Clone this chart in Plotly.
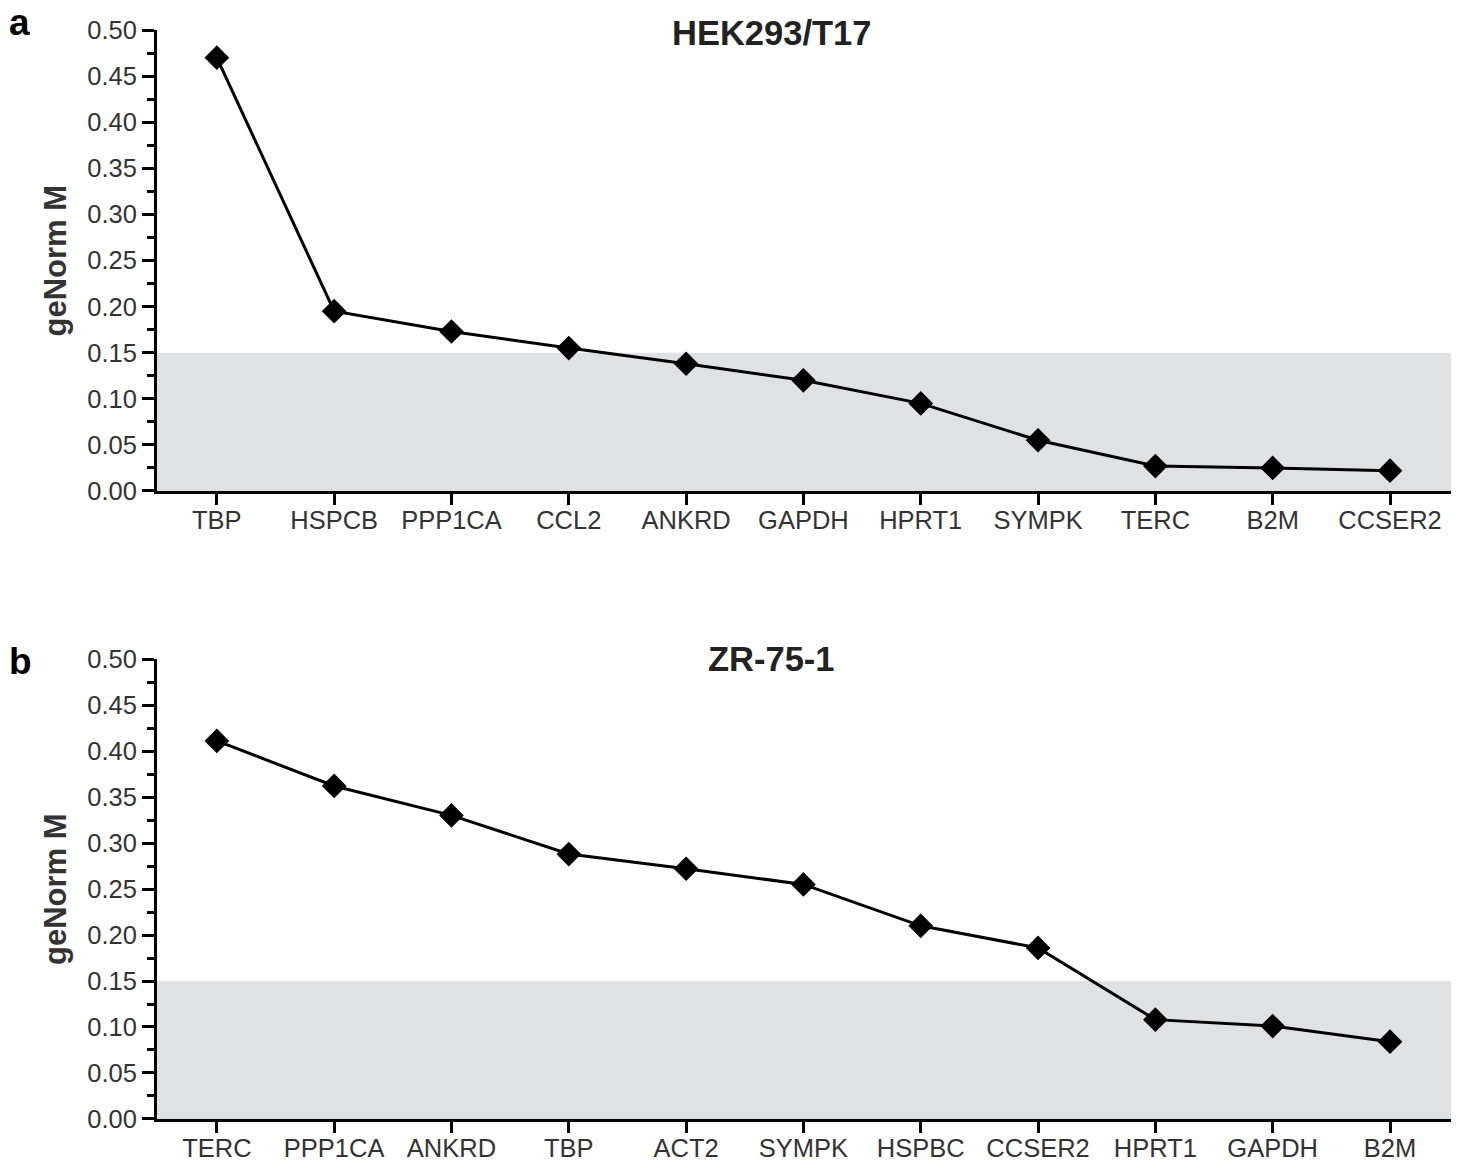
import plotly.graph_objects as go

# ---- data ----
genes_a = ["TBP", "HSPCB", "PPP1CA", "CCL2", "ANKRD", "GAPDH", "HPRT1", "SYMPK", "TERC", "B2M", "CCSER2"]
m_a = [0.470, 0.195, 0.173, 0.155, 0.138, 0.120, 0.095, 0.055, 0.027, 0.025, 0.022]
genes_b = ["TERC", "PPP1CA", "ANKRD", "TBP", "ACT2", "SYMPK", "HSPBC", "CCSER2", "HPRT1", "GAPDH", "B2M"]
m_b = [0.411, 0.362, 0.330, 0.288, 0.272, 0.255, 0.210, 0.186, 0.108, 0.101, 0.084]
titles = ["HEK293/T17", "ZR-75-1"]
panel_letters = ["a", "b"]
y_ticks = [0.00, 0.05, 0.10, 0.15, 0.20, 0.25, 0.30, 0.35, 0.40, 0.45, 0.50]
threshold = 0.15

FONT = "Liberation Sans, Arial, sans-serif"
W, H = 1460, 1161
ML, MR, MT, MB = 157, 9, 30, 42
PW = W - ML - MR
PH = H - MT - MB

fig = go.Figure()

panels = [(genes_a, m_a), (genes_b, m_b)]
domains = [[0.5767, 1.0], [0.0, 0.4224]]
title_off = [-3, 0]
letter_off = [7, -2]

for i, (genes, vals) in enumerate(panels):
    xa = "x" if i == 0 else "x2"
    ya = "y" if i == 0 else "y2"
    fig.add_trace(go.Scatter(
        x=list(range(len(genes))), y=vals, mode="lines+markers",
        line=dict(color="black", width=3),
        marker=dict(symbol="diamond", size=19, color="black"),
        xaxis=xa, yaxis=ya, showlegend=False, cliponaxis=False))
    axis_x = dict(
        domain=[0, 1], range=[-0.51, 10.52],
        tickmode="array", tickvals=list(range(len(genes))), ticktext=genes,
        showline=True, linecolor="black", linewidth=3,
        ticks="outside", ticklen=11, tickwidth=3, tickcolor="black",
        ticklabelstandoff=-7,
        showgrid=False, zeroline=False, automargin=False,
        tickfont=dict(family=FONT, size=25.5, color="#333333"),
        anchor=ya, fixedrange=True)
    axis_y = dict(
        domain=domains[i], range=[0, 0.5],
        tickmode="array", tickvals=y_ticks, ticktext=[f"{v:.2f}" for v in y_ticks],
        showline=True, linecolor="black", linewidth=3,
        ticks="outside", ticklen=12, tickwidth=3, tickcolor="black",
        minor=dict(dtick=0.025, tick0=0, ticks="outside", ticklen=7, tickwidth=3, tickcolor="black", showgrid=False),
        showgrid=False, zeroline=False, automargin=False,
        tickfont=dict(family=FONT, size=25.5, color="#333333"),
        anchor=xa, fixedrange=True)
    if i == 0:
        fig.update_layout(xaxis=axis_x, yaxis=axis_y)
    else:
        fig.update_layout(xaxis2=axis_x, yaxis2=axis_y)

    # grey acceptance band
    fig.add_shape(type="rect", xref=f"{xa} domain", yref=ya,
                  x0=0, x1=1, y0=0, y1=threshold,
                  fillcolor="#e0e1e3", line=dict(width=0), layer="below")

    top = domains[i][1]
    bot = domains[i][0]
    # panel title
    fig.add_annotation(text=f"<b>{titles[i]}</b>", xref="paper", yref="paper",
                       x=(771 - ML) / PW, y=top + title_off[i] / PH,
                       xanchor="center", yanchor="middle", showarrow=False,
                       font=dict(family=FONT, size=34.5, color="#222222"))
    # panel letter
    fig.add_annotation(text=f"<b>{panel_letters[i]}</b>", xref="paper", yref="paper",
                       x=(7 - ML) / PW, y=top + letter_off[i] / PH,
                       xanchor="left", yanchor="middle", showarrow=False,
                       font=dict(family=FONT, size=37, color="black"))
    # y-axis title
    fig.add_annotation(text="<b>geNorm M</b>", xref="paper", yref="paper",
                       x=(55 - ML) / PW, y=(bot + top) / 2,
                       xanchor="center", yanchor="middle", showarrow=False,
                       textangle=-90,
                       font=dict(family=FONT, size=31, color="#333333"))

fig.update_layout(
    width=W, height=H,
    margin=dict(l=ML, r=MR, t=MT, b=MB, autoexpand=False),
    paper_bgcolor="white", plot_bgcolor="white",
    showlegend=False,
)

fig.write_html("out.html")
